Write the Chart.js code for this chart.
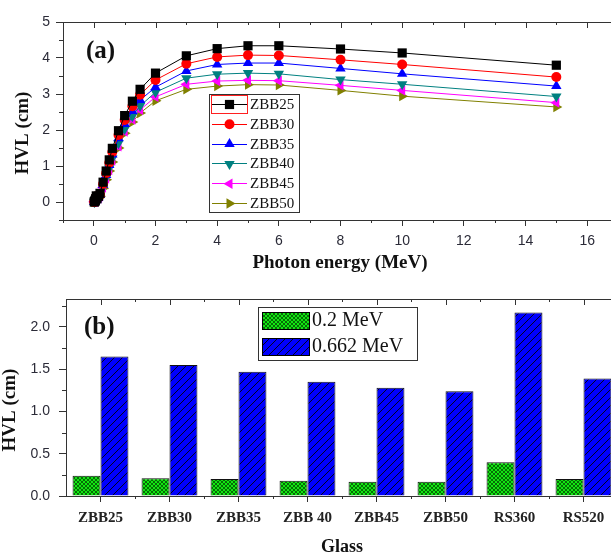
<!DOCTYPE html>
<html>
<head>
<meta charset="utf-8">
<script src="https://cdn.jsdelivr.net/npm/chart.js@4.4.1/dist/chart.umd.min.js"></script>
<style>
  body { margin: 0; background: #fff; overflow: hidden; width: 611px; height: 554px; }
  canvas { position: absolute; left: 0; }
  #hvlEnergy { top: 0; }
  #hvlGlass { top: 280px; }
</style>
</head>
<body>
<canvas id="hvlEnergy" width="625" height="280"></canvas>
<canvas id="hvlGlass" width="625" height="274"></canvas>
<script>
// photon energies (MeV)
var energies = [0.015, 0.02, 0.03, 0.04, 0.05, 0.06, 0.08, 0.1, 0.15, 0.2, 0.3, 0.4, 0.5,
                0.6, 0.8, 1, 1.25, 1.5, 2, 3, 4, 5, 6, 8, 10, 15];

// HVL (cm) for each glass
var zbb25 = [0.003, 0.006, 0.016, 0.034, 0.058, 0.09, 0.17, 0.09, 0.16, 0.24, 0.55, 0.86, 1.17,
             1.49, 1.98, 2.40, 2.80, 3.13, 3.58, 4.06, 4.26, 4.34, 4.34, 4.25, 4.14, 3.80];
var zbb30 = [0.003, 0.005, 0.014, 0.030, 0.052, 0.08, 0.15, 0.08, 0.14, 0.21, 0.50, 0.80, 1.09,
             1.39, 1.86, 2.28, 2.66, 2.98, 3.39, 3.84, 4.03, 4.08, 4.07, 3.95, 3.82, 3.47];
var zbb35 = [0.003, 0.005, 0.013, 0.028, 0.048, 0.075, 0.14, 0.075, 0.13, 0.20, 0.47, 0.75, 1.03,
             1.32, 1.77, 2.17, 2.53, 2.83, 3.19, 3.64, 3.82, 3.86, 3.86, 3.71, 3.56, 3.22];
var zbb40 = [0.002, 0.004, 0.011, 0.024, 0.042, 0.065, 0.12, 0.065, 0.11, 0.17, 0.42, 0.68, 0.94,
             1.21, 1.63, 2.03, 2.38, 2.67, 3.05, 3.44, 3.55, 3.58, 3.56, 3.40, 3.27, 2.93];
var zbb45 = [0.002, 0.004, 0.010, 0.022, 0.039, 0.06, 0.11, 0.06, 0.10, 0.16, 0.40, 0.65, 0.89,
             1.15, 1.55, 1.96, 2.29, 2.56, 2.92, 3.27, 3.36, 3.38, 3.37, 3.24, 3.10, 2.76];
var zbb50 = [0.002, 0.004, 0.010, 0.021, 0.037, 0.058, 0.105, 0.058, 0.10, 0.16, 0.38, 0.62, 0.86,
             1.11, 1.50, 1.91, 2.22, 2.47, 2.81, 3.13, 3.22, 3.26, 3.25, 3.10, 2.94, 2.64];

var energyTicks = [0, 2, 4, 6, 8, 10, 12, 14, 16];
var hvlTicks = [0, 1, 2, 3, 4, 5];

// glasses compared at two energies
var glasses = ['ZBB25', 'ZBB30', 'ZBB35', 'ZBB 40', 'ZBB45', 'ZBB50', 'RS360', 'RS520'];
var hvlLow = [0.24, 0.21, 0.20, 0.18, 0.17, 0.17, 0.40, 0.20];   // 0.2 MeV
var hvlCs = [1.65, 1.55, 1.47, 1.35, 1.28, 1.24, 2.17, 1.39];    // 0.662 MeV
var glassTicks = [0, 0.5, 1.0, 1.5, 2.0];

var labelFont = '"Liberation Sans", Arial, sans-serif';
var serif = '"Liberation Serif", "Times New Roman", serif';
var tickColor = '#2b2b38';
var axisColor = '#333';

function series(vals) {
  return energies.map(function (e, i) { return { x: e, y: vals[i] }; });
}

function lineSet(label, vals, color, style, rot, r) {
  return {
    label: label,
    data: series(vals),
    borderColor: color,
    backgroundColor: color,
    borderWidth: 1,
    pointStyle: style,
    pointRotation: rot,
    pointRadius: r,
    pointBorderWidth: 0,
    pointBorderColor: color,
    tension: 0
  };
}

// hatch fills
function crossPattern() {
  var c = document.createElement('canvas');
  c.width = 4; c.height = 4;
  var g = c.getContext('2d');
  g.fillStyle = '#12e612';
  g.fillRect(0, 0, 4, 4);
  g.strokeStyle = 'rgba(0,50,0,0.85)';
  g.lineWidth = 0.8;
  g.beginPath();
  g.moveTo(0, 0); g.lineTo(4, 4);
  g.moveTo(4, 0); g.lineTo(0, 4);
  g.stroke();
  return g.createPattern(c, 'repeat');
}

function slashPattern() {
  var c = document.createElement('canvas');
  c.width = 8; c.height = 8;
  var g = c.getContext('2d');
  g.fillStyle = '#0000ff';
  g.fillRect(0, 0, 8, 8);
  g.strokeStyle = '#000022';
  g.lineWidth = 1;
  g.beginPath();
  g.moveTo(0, 8); g.lineTo(8, 0);
  g.moveTo(-1, 1); g.lineTo(1, -1);
  g.moveTo(7, 9); g.lineTo(9, 7);
  g.stroke();
  return g.createPattern(c, 'repeat');
}

var greenFill = crossPattern();
var blueFill = slashPattern();

// bare axis used only for the top/right edge of the box
function edgeAxis(pos, extra) {
  var o = {
    position: pos,
    grid: { display: false, drawTicks: false },
    border: { display: true, color: axisColor, width: 1 },
    ticks: { display: false },
    afterFit: function (s) { if (s.isHorizontal()) s.height = 0; else s.width = 0; }
  };
  for (var k in extra) o[k] = extra[k];
  return o;
}

// minor ticks and the inward ticks on top/right
function extraTicks(chart, xMajor, xMinor, yMajor, yMinor) {
  var ctx = chart.ctx, a = chart.chartArea, ys = chart.scales.y;
  var l = Math.round(a.left), r = Math.round(a.right);
  var t = Math.round(a.top), b = Math.round(a.bottom);
  ctx.save();
  ctx.fillStyle = axisColor;
  xMajor.forEach(function (p) { ctx.fillRect(Math.round(p), t, 1, 6); });
  xMinor.forEach(function (p) {
    p = Math.round(p);
    ctx.fillRect(p, b, 1, 3);
    ctx.fillRect(p, t, 1, 3);
  });
  yMajor.forEach(function (v) { ctx.fillRect(r - 7, Math.round(ys.getPixelForValue(v)), 7, 1); });
  yMinor.forEach(function (v) {
    var p = Math.round(ys.getPixelForValue(v));
    ctx.fillRect(l - 4, p, 4, 1);
    ctx.fillRect(r - 4, p, 4, 1);
  });
  ctx.restore();
}

function rotatedText(ctx, text, x, y, font) {
  ctx.save();
  ctx.translate(x, y);
  ctx.rotate(-Math.PI / 2);
  ctx.font = font;
  ctx.textAlign = 'center';
  ctx.textBaseline = 'middle';
  ctx.fillText(text, 0, 0);
  ctx.restore();
}

var energyDecor = {
  id: 'energyDecor',
  afterDraw: function (chart) {
    var ctx = chart.ctx, xs = chart.scales.x;
    try {
      var xMinor = [];
      for (var v = -1; v <= 17; v += 2) xMinor.push(xs.getPixelForValue(v));
      extraTicks(chart, energyTicks.map(function (v) { return xs.getPixelForValue(v); }),
                 xMinor, hvlTicks, [-0.5, 0.5, 1.5, 2.5, 3.5, 4.5]);
    } catch (e) {}

    ctx.save();
    ctx.fillStyle = '#111';
    ctx.font = 'bold 25px ' + serif;
    ctx.textBaseline = 'middle';
    ctx.fillText('(a)', 86, 52);
    ctx.font = 'bold 19px ' + serif;
    ctx.textAlign = 'center';
    ctx.fillText('Photon energy (MeV)', 340, 263);
    rotatedText(ctx, 'HVL (cm)', 23, 133, 'bold 19px ' + serif);

    // legend
    ctx.fillStyle = '#fff';
    ctx.fillRect(209, 94, 90, 118);
    ctx.strokeStyle = axisColor;
    ctx.lineWidth = 1;
    ctx.strokeRect(209.5, 94.5, 90, 118);
    ctx.textAlign = 'left';
    ctx.font = '15px ' + serif;
    chart.data.datasets.forEach(function (ds, i) {
      var y = 104 + i * 19.8;
      ctx.strokeStyle = ds.borderColor;
      ctx.beginPath();
      ctx.moveTo(212, Math.round(y) + 0.5);
      ctx.lineTo(247, Math.round(y) + 0.5);
      ctx.stroke();
      ctx.fillStyle = ds.backgroundColor;
      Chart.helpers.drawPoint(ctx, {
        pointStyle: ds.pointStyle, radius: ds.pointRadius,
        rotation: ds.pointRotation, borderWidth: 0
      }, 229.5, y + 0.5);
      ctx.fillStyle = '#111';
      ctx.fillText(ds.label, 250, y + 1);
    });
    ctx.strokeStyle = '#ff2020';
    ctx.strokeRect(211.5, 95.5, 36, 18);
    ctx.restore();
  }
};

var glassDecor = {
  id: 'glassDecor',
  afterDraw: function (chart) {
    var ctx = chart.ctx, xs = chart.scales.x;
    try {
      var centers = [], edges = [];
      glasses.forEach(function (g, i) {
        var c = xs.getPixelForTick(i);
        centers.push(c);
        if (i > 0) edges.push((c + xs.getPixelForTick(i - 1)) / 2);
      });
      extraTicks(chart, centers, edges, glassTicks, [0.25, 0.75, 1.25, 1.75, 2.25]);
    } catch (e) {}

    ctx.save();
    ctx.fillStyle = '#111';
    ctx.font = 'bold 25px ' + serif;
    ctx.textBaseline = 'middle';
    ctx.fillText('(b)', 84, 48);
    ctx.font = 'bold 18px ' + serif;
    ctx.textAlign = 'center';
    ctx.fillText('Glass', 342, 267);
    rotatedText(ctx, 'HVL (cm)', 10, 130, 'bold 19px ' + serif);

    // legend
    ctx.fillStyle = '#fff';
    ctx.fillRect(258, 27, 159, 53);
    ctx.strokeStyle = axisColor;
    ctx.lineWidth = 1;
    ctx.strokeRect(258.5, 27.5, 159, 53);
    ctx.textAlign = 'left';
    ctx.font = '20px ' + serif;
    chart.data.datasets.forEach(function (ds, i) {
      var top = 32 + i * 26;
      ctx.fillStyle = ds.backgroundColor;
      ctx.fillRect(262, top, 47, 17);
      ctx.strokeStyle = '#000';
      ctx.strokeRect(262.5, top + 0.5, 47, 17);
      ctx.fillStyle = '#111';
      ctx.fillText(ds.label, 312, top + 9);
    });
    ctx.restore();
  }
};

var tickGrid = function (len) {
  return { display: true, drawOnChartArea: false, drawTicks: true, tickLength: len, color: axisColor, lineWidth: 1 };
};

new Chart(document.getElementById('hvlEnergy'), {
  type: 'line',
  data: {
    datasets: [
      lineSet('ZBB25', zbb25, '#000000', 'rect', 0, 6.5),
      lineSet('ZBB30', zbb30, '#ff0000', 'circle', 0, 5),
      lineSet('ZBB35', zbb35, '#0000ff', 'triangle', 0, 6),
      lineSet('ZBB40', zbb40, '#008080', 'triangle', 180, 6),
      lineSet('ZBB45', zbb45, '#ff00ff', 'triangle', -90, 6),
      lineSet('ZBB50', zbb50, '#808000', 'triangle', 90, 6)
    ]
  },
  options: {
    responsive: false,
    animation: false,
    layout: { padding: { top: 22, right: 7, left: 0, bottom: 0 } },
    plugins: { legend: { display: false }, tooltip: { enabled: false } },
    scales: {
      x: {
        type: 'linear', min: -1, max: 17,
        afterBuildTicks: function (s) { s.ticks = energyTicks.map(function (v) { return { value: v }; }); },
        afterFit: function (s) { s.height = 60; },
        grid: tickGrid(6), border: { display: true, color: axisColor, width: 1 },
        ticks: { font: { family: labelFont, size: 14 }, color: tickColor, padding: 7, maxRotation: 0 }
      },
      y: {
        min: -0.5, max: 5,
        afterBuildTicks: function (s) { s.ticks = hvlTicks.map(function (v) { return { value: v }; }); },
        afterFit: function (s) { s.width = 63; },
        grid: tickGrid(7), border: { display: true, color: axisColor, width: 1 },
        ticks: { font: { family: labelFont, size: 14 }, color: tickColor, padding: 6 }
      },
      xTop: edgeAxis('top', { type: 'linear', min: -1, max: 17 }),
      yRight: edgeAxis('right', { type: 'linear', min: -0.5, max: 5 })
    }
  },
  plugins: [energyDecor]
});

new Chart(document.getElementById('hvlGlass'), {
  type: 'bar',
  data: {
    labels: glasses,
    datasets: [
      { label: '0.2 MeV', data: hvlLow, backgroundColor: greenFill, borderColor: '#111', borderWidth: 1 },
      { label: '0.662 MeV', data: hvlCs, backgroundColor: blueFill, borderColor: '#111', borderWidth: 1 }
    ]
  },
  options: {
    responsive: false,
    animation: false,
    layout: { padding: { top: 19, right: 7, left: 0, bottom: 0 } },
    datasets: { bar: { categoryPercentage: 0.81, barPercentage: 1.0 } },
    plugins: { legend: { display: false }, tooltip: { enabled: false } },
    scales: {
      x: {
        afterFit: function (s) { s.height = 58; },
        grid: Object.assign(tickGrid(6), { offset: false }), border: { display: true, color: axisColor, width: 1 },
        ticks: { font: { family: serif, size: 15, weight: 'bold' }, color: '#222', padding: 7, maxRotation: 0, autoSkip: false }
      },
      y: {
        min: 0, max: 2.33,
        afterBuildTicks: function (s) { s.ticks = glassTicks.map(function (v) { return { value: v }; }); },
        afterFit: function (s) { s.width = 66; },
        grid: tickGrid(7), border: { display: true, color: axisColor, width: 1 },
        ticks: {
          font: { family: labelFont, size: 14 }, color: tickColor, padding: 9,
          callback: function (v) { return Number(v).toFixed(1); }
        }
      },
      xTop: edgeAxis('top', { type: 'linear', min: 0, max: 1 }),
      yRight: edgeAxis('right', { type: 'linear', min: 0, max: 2.33 })
    }
  },
  plugins: [glassDecor]
});
</script>
</body>
</html>
